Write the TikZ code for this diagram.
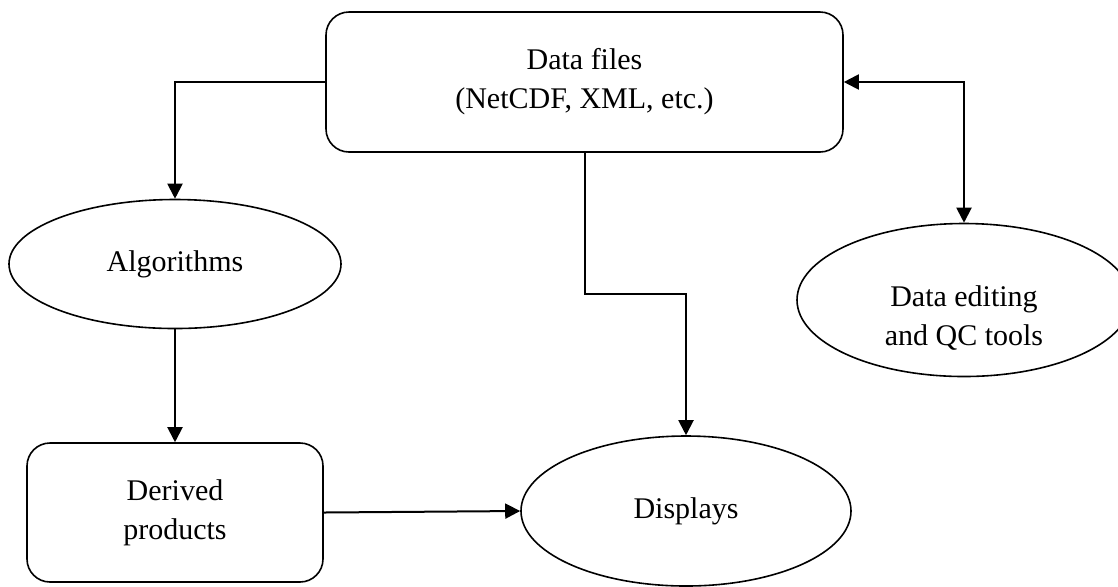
\documentclass[tikz,border=0pt]{standalone}
\usepackage{fontspec}
\setmainfont{Liberation Serif}
\usetikzlibrary{shapes.geometric, arrows.meta, positioning}
\tikzset{
    every node/.style={ % Sets the text of every node
        font=\fontsize{15}{19.5}\selectfont,
        align=center
    },
    box/.style={ % Rounded boxes for the files and products
        draw,
        rounded corners=11.5pt,
        line width=0.8pt
    },
    oval/.style={ % Ellipses for the tools
        draw,
        ellipse,
        line width=0.8pt,
        inner sep=0pt
    },
    flow/.style={ % Sets the properties for each connector
        line width=1pt,
        >={Triangle[length=7.5pt,width=7.5pt]}, % Filled arrowheads
        ->
    },
    twoway/.style={flow, <->},
}

\begin{document}
\begin{tikzpicture}[x=0.5pt, y=-0.5pt]
            \useasboundingbox (0,0) rectangle (1118,586);
            \node[box, minimum width=258.5pt, minimum height=70pt]  (files)   at (584.5,82)  {Data files\\(NetCDF, XML, etc.)};
            \node[oval, minimum width=166pt, minimum height=64.5pt] (algo)    at (175,264)   {Algorithms};
            \node[oval, minimum width=167pt, minimum height=76.5pt,
                  label={[name=qctext, yshift=-9pt]center:Data editing\\and QC tools}]
                                                                    (qc)      at (964,300)   {};
            \node[box, minimum width=148pt, minimum height=69.5pt]  (derived) at (175,512.5) {Derived\\products};
            \node[oval, minimum width=165pt, minimum height=75pt]   (disp)    at (686,511)   {Displays};
            \draw[flow]     (files.west) -| (algo.north);
            \draw[flow]     (files.south) -- ++(0,141) -| (disp.north);
            \draw[twoway]   (files.east) -| (qc.north);
            \draw[flow]     (algo.south) -- (derived.north);
            \draw[flow]     (derived.east) -- (disp.west);
        \end{tikzpicture}
\end{document}
